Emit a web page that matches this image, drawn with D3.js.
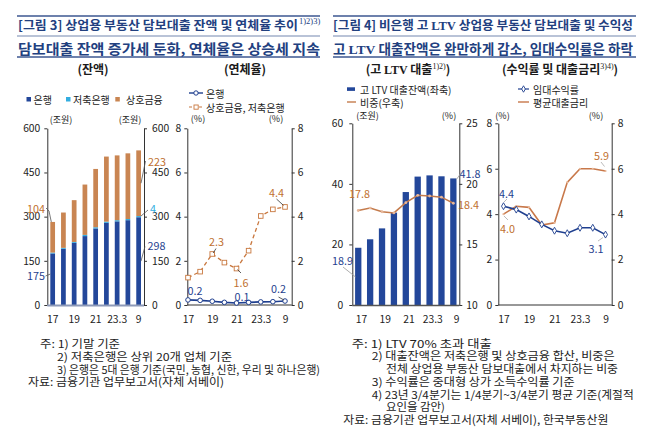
<!DOCTYPE html>
<html><head><meta charset="utf-8">
<script src="https://cdn.jsdelivr.net/npm/d3@7"></script>
<style>
body{margin:0;background:#fff;}
svg{display:block;}
text{font-family:"Noto Sans CJK KR","Noto Sans",sans-serif;}
</style></head><body>
<svg id="c" width="658" height="436"></svg>
<script>
// ---------- data ----------
const categories = ["17","18","19","20","21","22","23.3","23.6","23.9"];
const shownTicks = ["17","19","21","23.3","23.9"];
const tickText = {"17":"17","19":"19","21":"21","23.3":"23.3","23.9":"9"};

const bankBal    = [175,191,211,234,260,279,284,288,298];
const savingsBal = [3,3,3,4,4,4,4,4,4];
const mutualBal  = [104,120,142,171,198,221,220,223,223];

const bankDelinq   = [0.23,0.21,0.17,0.12,0.09,0.12,0.14,0.15,0.18];
const mutualDelinq = [1.24,1.51,2.31,1.92,1.65,2.46,4.03,4.33,4.44];

const ltvBal   = [18.9,21.7,25.3,30.5,37.3,42.4,42.8,42.5,41.8];
const ltvShare = [17.8,18.0,17.7,17.6,18.45,19.05,19.0,18.9,18.4];

const rentYield = [4.35,4.2,3.9,3.55,3.27,3.16,3.4,3.4,3.1];
const loanRate  = [4.0,4.35,4.3,3.52,3.62,5.4,6.0,6.0,5.9];

const balTicks = [0,150,300,450,600];
const pctTicks = [0,2,4,6,8];
const ltvTicks = [0,20,40,60];
const shareTicks = [10,15,20,25];

// ---------- style ----------
const NAVY = "#22407f";
const BLUE = "#23479a";
const CYAN = "#33ade0";
const ORANGE = "#c98552";
const ORANGE_T = "#c0702f";
const BLUE_T = "#1f3f8f";
const NUMF = '"Liberation Sans", Arial, sans-serif';
const SERIF = '"Liberation Serif", "Noto Sans CJK KR", serif';

const svg = d3.select("#c");
svg.append("rect").attr("width",658).attr("height",436).attr("fill","#fff");

// ---------- headers ----------
function hlines(x1,x2){
  svg.append("line").attr("x1",x1).attr("x2",x2).attr("y1",16).attr("y2",16).attr("stroke","#3d5790").attr("stroke-width",1.6);
  svg.append("line").attr("x1",x1).attr("x2",x2).attr("y1",36).attr("y2",36).attr("stroke","#7487b0").attr("stroke-width",1.1);
  svg.append("line").attr("x1",x1).attr("x2",x2).attr("y1",57).attr("y2",57).attr("stroke","#3d5790").attr("stroke-width",1.6);
}
hlines(17,320);
hlines(333,636);

const t3 = svg.append("text").attr("x",18).attr("y",30).attr("font-size",12.5).attr("font-weight",700).attr("fill",NAVY);
t3.append("tspan").attr("textLength",280).attr("lengthAdjust","spacingAndGlyphs").text("[그림 3] 상업용 부동산 담보대출 잔액 및 연체율 추이");
t3.append("tspan").attr("x",299).attr("dy",-6).attr("font-size",8.5).attr("font-weight",400).attr("font-family",SERIF).text("1)2)3)");
svg.append("text").attr("x",18).attr("y",54).attr("font-size",13.5).attr("font-weight",700).attr("fill",NAVY)
  .attr("textLength",302).attr("lengthAdjust","spacingAndGlyphs")
  .text("담보대출 잔액 증가세 둔화, 연체율은 상승세 지속");

const t4 = svg.append("text").attr("x",333).attr("y",30).attr("font-size",12.5).attr("font-weight",700).attr("fill",NAVY)
  .attr("textLength",300).attr("lengthAdjust","spacingAndGlyphs");
t4.append("tspan").text("[그림 4] 비은행 고 ");
t4.append("tspan").attr("font-family",SERIF).text("LTV");
t4.append("tspan").text(" 상업용 부동산 담보대출 및 수익성");
const s4 = svg.append("text").attr("x",333).attr("y",54).attr("font-size",13.5).attr("font-weight",700).attr("fill",NAVY)
  .attr("textLength",300).attr("lengthAdjust","spacingAndGlyphs");
s4.append("tspan").text("고 ");
s4.append("tspan").attr("font-family",SERIF).text("LTV");
s4.append("tspan").text(" 대출잔액은 완만하게 감소, 임대수익률은 하락");

function subhead(x, parts){
  const t = svg.append("text").attr("x",x).attr("y",74).attr("font-size",12).attr("font-weight",700).attr("fill","#1a1a1a").attr("text-anchor","middle");
  parts.forEach(p=>{
    const ts = t.append("tspan").text(p.t);
    if(p.serif) ts.attr("font-family",SERIF);
    if(p.sup) ts.attr("font-size",8).attr("dy",-5).attr("font-family",SERIF).attr("font-weight",400);
    if(p.down) ts.attr("dy",5);
  });
}
subhead(93,[{t:"(잔액)"}]);
subhead(245,[{t:"(연체율)"}]);
subhead(408,[{t:"(고 "},{t:"LTV",serif:true},{t:" 대출"},{t:"1)2)",sup:true},{t:")",down:true}]);
subhead(560,[{t:"(수익률 및 대출금리"},{t:"3)4)",sup:true},{t:")",down:true}]);

// ---------- helpers ----------
function styleAxis(g){
  g.selectAll("path.domain").attr("stroke","#333").attr("stroke-width",1);
  g.selectAll(".tick line").attr("stroke","#333");
  g.selectAll(".tick text").attr("font-family",NUMF).attr("font-size",10.3).attr("fill","#222");
}
function unit(x,y,t){
  svg.append("text").attr("x",x).attr("y",y).attr("text-anchor","middle").attr("dominant-baseline","central")
    .attr("font-size",9).attr("fill","#222").text(t);
}
function label(x,y,t,color,anchor){
  svg.append("text").attr("x",x).attr("y",y).attr("text-anchor",anchor||"middle").attr("dominant-baseline","central")
    .attr("font-family",NUMF).attr("font-size",10.8).attr("fill",color).text(t);
}
function leader(pts,color){
  svg.append("path").attr("d",d3.line()(pts)).attr("fill","none").attr("stroke",color||"#555").attr("stroke-width",0.8);
}
function xLabels(scale, offset){
  const g = svg.append("g").attr("transform",`translate(${offset||0},305)`)
    .call(d3.axisBottom(scale).tickValues(shownTicks).tickFormat(d=>tickText[d]).tickSize(0).tickPadding(10.5));
  g.select("path.domain").remove();
  styleAxis(g);
}
function legendText(x,y,t){
  svg.append("text").attr("x",x).attr("y",y).attr("dominant-baseline","central").attr("font-size",10).attr("fill","#222").text(t);
}

// ---------- chart 1: balances (stacked bars) ----------
const x1 = d3.scaleBand().domain(categories).range([47.3,144]).paddingInner(0.56).paddingOuter(0.28);
const y1 = d3.scaleLinear().domain([0,600]).range([305,128.3]);
const rows1 = categories.map((c,i)=>({cat:c, bank:bankBal[i], savings:savingsBal[i], mutual:mutualBal[i]}));
const stack1 = d3.stack().keys(["bank","savings","mutual"])(rows1);
const col1 = {bank:BLUE, savings:CYAN, mutual:ORANGE};
svg.append("g").selectAll("g").data(stack1).join("g").attr("fill",d=>col1[d.key])
  .selectAll("rect").data(d=>d).join("rect")
  .attr("x",d=>x1(d.data.cat)).attr("width",x1.bandwidth())
  .attr("y",d=>y1(d[1])).attr("height",d=>y1(d[0])-y1(d[1]));
{
  const gl = svg.append("g").attr("transform","translate(47.3,0)").call(d3.axisLeft(y1).tickValues(balTicks).tickSize(3).tickSizeOuter(0).tickPadding(4));
  styleAxis(gl);
  const gr = svg.append("g").attr("transform","translate(144,0)").call(d3.axisRight(y1).tickValues(balTicks).tickSize(3).tickSizeOuter(0).tickPadding(5));
  styleAxis(gr);
  svg.append("line").attr("x1",47.3).attr("x2",144).attr("y1",305.5).attr("y2",305.5).attr("stroke","#8e9ab8").attr("stroke-width",1.8);
  xLabels(x1);
}
unit(61,119,"(조원)"); unit(130,119,"(조원)");
// legend 1
[[26.5,"은행",BLUE,33.5],[66,"저축은행",CYAN,73],[115.3,"상호금융",ORANGE,126]].forEach(([x,t,c,tx])=>{
  svg.append("rect").attr("x",x).attr("y",97).attr("width",4.5).attr("height",4.5).attr("fill",c);
  legendText(tx,99.5,t);
});
// annotations 1
{
  const c0 = x1(categories[0]), c8 = x1(categories[8]);
  const tot0 = bankBal[0]+savingsBal[0]+mutualBal[0];
  label(45,207.5,String(mutualBal[0]),ORANGE_T,"end");
  leader([[46,208],[49,211],[c0+1,y1(tot0)]]);
  label(45,275,String(bankBal[0]),BLUE_T,"end");
  leader([[45.5,276],[c0,y1(bankBal[0]*0.6)]]);
  label(148,161,String(mutualBal[8]),ORANGE_T,"start");
  leader([[145.5,161],[c8+x1.bandwidth(),y1(bankBal[8]+savingsBal[8]+mutualBal[8]/2)]]);
  label(150,207.5,String(savingsBal[8]),CYAN,"start");
  leader([[148,210],[c8+x1.bandwidth(),y1(bankBal[8]+savingsBal[8])]]);
  label(147.5,245,String(bankBal[8]),BLUE_T,"start");
  leader([[145,246.5],[c8+x1.bandwidth(),y1(bankBal[8]/2)]]);
}

// ---------- chart 2: delinquency ----------
const x2 = d3.scalePoint().domain(categories).range([188,285]);
const y2 = d3.scaleLinear().domain([0,8]).range([305,128.3]);
{
  const gl = svg.append("g").attr("transform","translate(187.3,0)").call(d3.axisLeft(y2).tickValues(pctTicks).tickSize(3).tickSizeOuter(0).tickPadding(3));
  styleAxis(gl);
  const gr = svg.append("g").attr("transform","translate(291.7,0)").call(d3.axisRight(y2).tickValues(pctTicks).tickSize(3).tickSizeOuter(0).tickPadding(3));
  styleAxis(gr);
  svg.append("line").attr("x1",187.3).attr("x2",291.7).attr("y1",305).attr("y2",305).attr("stroke","#333").attr("stroke-width",1.2);
  xLabels(x2);
}
const line2 = d3.line().x((d,i)=>x2(categories[i])).y(d=>y2(d));
svg.append("path").attr("d",line2(mutualDelinq)).attr("fill","none").attr("stroke","#c8773e").attr("stroke-width",1.3).attr("stroke-dasharray","4,3");
svg.append("g").selectAll("rect").data(mutualDelinq).join("rect")
  .attr("x",(d,i)=>x2(categories[i])-2.3).attr("y",d=>y2(d)-2.3).attr("width",4.6).attr("height",4.6)
  .attr("fill","#fff").attr("stroke","#c8773e").attr("stroke-width",0.9);
svg.append("path").attr("d",line2(bankDelinq)).attr("fill","none").attr("stroke",BLUE_T).attr("stroke-width",1.6);
svg.append("g").selectAll("circle").data(bankDelinq).join("circle")
  .attr("cx",(d,i)=>x2(categories[i])).attr("cy",d=>y2(d)).attr("r",2.3)
  .attr("fill","#fff").attr("stroke",BLUE_T).attr("stroke-width",1);
unit(198,118.5,"(%)"); unit(276,118.5,"(%)");
// legend 2
svg.append("line").attr("x1",189).attr("x2",203).attr("y1",93).attr("y2",93).attr("stroke",BLUE_T).attr("stroke-width",1.4);
svg.append("circle").attr("cx",196).attr("cy",93).attr("r",2.2).attr("fill","#fff").attr("stroke",BLUE_T);
legendText(206,93,"은행");
svg.append("line").attr("x1",189).attr("x2",203).attr("y1",107).attr("y2",107).attr("stroke","#c8773e").attr("stroke-width",1.2).attr("stroke-dasharray","3,2");
svg.append("rect").attr("x",194).attr("y",105).attr("width",4.2).attr("height",4.2).attr("fill","#fff").attr("stroke","#c8773e").attr("stroke-width",0.9);
legendText(206,107,"상호금융, 저축은행");
// annotations 2
{
  label(195,290,"0.2",BLUE_T);
  label(242,296,"0.1",BLUE_T);
  label(278.5,288,"0.2",BLUE_T);
  leader([[278.5,297],[x2(categories[8])-1,y2(bankDelinq[8])-1]],"#333");
  label(216.5,241,"2.3",ORANGE_T);
  leader([[216,248.5],[x2(categories[2])+1,y2(mutualDelinq[2])-1]],"#333");
  label(241,282,"1.6",ORANGE_T);
  leader([[x2(categories[4])+1,y2(mutualDelinq[4])+1],[241,273]],"#333");
  label(276.5,192,"4.4",ORANGE_T);
  leader([[276.5,199],[x2(categories[8])-1.5,y2(mutualDelinq[8])-1.5]],"#333");
}

// ---------- chart 3: high LTV ----------
const x3 = d3.scaleBand().domain(categories).range([352.3,459.3]).paddingInner(0.47).paddingOuter(0.235);
const y3 = d3.scaleLinear().domain([0,60]).range([305,123.3]);
const y3r = d3.scaleLinear().domain([10,25]).range([305,123.3]);
svg.append("g").selectAll("rect").data(ltvBal).join("rect")
  .attr("x",(d,i)=>x3(categories[i])).attr("width",x3.bandwidth())
  .attr("y",d=>y3(d)).attr("height",d=>y3(0)-y3(d)).attr("fill",BLUE);
{
  const gl = svg.append("g").attr("transform","translate(352.3,0)").call(d3.axisLeft(y3).tickValues(ltvTicks).tickSize(3).tickSizeOuter(0).tickPadding(6));
  styleAxis(gl);
  const gr = svg.append("g").attr("transform","translate(459.3,0)").call(d3.axisRight(y3r).tickValues(shareTicks).tickSize(3).tickSizeOuter(0).tickPadding(4));
  styleAxis(gr);
  svg.append("line").attr("x1",352.3).attr("x2",459.3).attr("y1",305.5).attr("y2",305.5).attr("stroke","#555").attr("stroke-width",1.5);
  xLabels(x3, x3.bandwidth()/2);
}
const line3 = d3.line().x((d,i)=>x3(categories[i])+x3.bandwidth()/2).y(d=>y3r(d));
svg.append("path").attr("d",line3(ltvShare)).attr("fill","none").attr("stroke","#c47b4c").attr("stroke-width",1.5);
svg.append("g").selectAll("circle").data(ltvShare).join("circle")
  .attr("cx",(d,i)=>x3(categories[i])+x3.bandwidth()/2).attr("cy",d=>y3r(d)).attr("r",1.4).attr("fill","#e7b79a");
unit(367.5,115,"(조원)"); unit(449,115,"(%)");
// legend 3
svg.append("rect").attr("x",347).attr("y",87.3).attr("width",8).attr("height",3.6).attr("fill",BLUE);
legendText(360,89,"고 LTV 대출잔액(좌축)");
svg.append("line").attr("x1",347).attr("x2",356).attr("y1",102).attr("y2",102).attr("stroke","#c47b4c").attr("stroke-width",1.4);
legendText(360,102,"비중(우축)");
// annotations 3
{
  label(359.5,193,"17.8",ORANGE_T);
  label(342.5,260,"18.9",BLUE_T);
  leader([[343,267],[x3(categories[0])+0.5,277]],"#999");
  label(470,172.5,"41.8",BLUE_T);
  leader([[x3(categories[8])+x3.bandwidth(),y3(ltvBal[8])+1],[461,173]],"#999");
  label(468.5,204,"18.4",ORANGE_T);
}

// ---------- chart 4: yield & rate ----------
const x4 = d3.scalePoint().domain(categories).range([503.5,605.5]);
const y4 = d3.scaleLinear().domain([0,8]).range([305,123.3]);
{
  const gl = svg.append("g").attr("transform","translate(498.3,0)").call(d3.axisLeft(y4).tickValues(pctTicks).tickSize(3).tickSizeOuter(0).tickPadding(3));
  styleAxis(gl);
  const gr = svg.append("g").attr("transform","translate(611.7,0)").call(d3.axisRight(y4).tickValues(pctTicks).tickSize(3).tickSizeOuter(0).tickPadding(3));
  styleAxis(gr);
  svg.append("line").attr("x1",498.3).attr("x2",611.7).attr("y1",305).attr("y2",305).attr("stroke","#333").attr("stroke-width",1.2);
  xLabels(x4);
}
const line4 = d3.line().x((d,i)=>x4(categories[i])).y(d=>y4(d));
svg.append("path").attr("d",line4(loanRate)).attr("fill","none").attr("stroke","#c8784a").attr("stroke-width",1.6);
svg.append("g").selectAll("circle").data(loanRate).join("circle")
  .attr("cx",(d,i)=>x4(categories[i])).attr("cy",d=>y4(d)).attr("r",1.1).attr("fill","#e8b899");
svg.append("path").attr("d",line4(rentYield)).attr("fill","none").attr("stroke",BLUE_T).attr("stroke-width",1.6);
svg.append("g").selectAll("path.dm").data(rentYield).join("path").attr("class","dm")
  .attr("d",d3.symbol(d3.symbolDiamond,14)())
  .attr("transform",(d,i)=>`translate(${x4(categories[i])},${y4(d)})`)
  .attr("fill","#fff").attr("stroke",BLUE_T).attr("stroke-width",0.9);
unit(502.5,115,"(%)"); unit(596,115,"(%)");
// legend 4
svg.append("line").attr("x1",518).attr("x2",529).attr("y1",89).attr("y2",89).attr("stroke",BLUE_T).attr("stroke-width",1.2);
svg.append("path").attr("d",d3.symbol(d3.symbolDiamond,12)()).attr("transform","translate(523.5,89)").attr("fill","#fff").attr("stroke",BLUE_T).attr("stroke-width",0.9);
legendText(533,89,"임대수익률");
svg.append("line").attr("x1",518).attr("x2",529).attr("y1",102).attr("y2",102).attr("stroke","#c8784a").attr("stroke-width",1.4);
legendText(533,102,"평균대출금리");
// annotations 4
{
  label(506.5,193,"4.4",BLUE_T);
  leader([[504,202],[507,199]],"#aaa");
  label(507.5,228,"4.0",ORANGE_T);
  leader([[504,216],[508,220]],"#aaa");
  label(601.5,155,"5.9",ORANGE_T);
  leader([[601,162],[604.5,166.5]],"#aaa");
  label(596,248,"3.1",BLUE_T);
  leader([[598,241],[603,237.5]],"#aaa");
}

// ---------- notes ----------
function note(x,y,t,w){
  const el = svg.append("text").attr("x",x).attr("y",y).attr("dominant-baseline","central")
    .attr("font-family",SERIF).attr("font-size",11).attr("fill","#222").text(t);
  if(w) el.attr("textLength",w).attr("lengthAdjust","spacingAndGlyphs");
}
note(40,343,"주: 1) 기말 기준",80);
note(57,355.8,"2) 저축은행은 상위 20개 업체 기준",175);
note(57,368.6,"3) 은행은 5대 은행 기준(국민, 농협, 신한, 우리 및 하나은행)",263);
note(28,381.4,"자료: 금융기관 업무보고서(자체 서베이)",196);

note(351.7,342.7,"주: 1) LTV 70% 초과 대출",140);
note(371.7,355.4,"2) 대출잔액은 저축은행 및 상호금융 합산, 비중은",243);
note(386,368.1,"전체 상업용 부동산 담보대출에서 차지하는 비중",232);
note(371.7,380.8,"3) 수익률은 중대형 상가 소득수익률 기준",203);
note(371.7,393.5,"4) 23년 3/4분기는 1/4분기~3/4분기 평균 기준(계절적",262);
note(386,406.2,"요인을 감안)",59);
note(343.3,418.9,"자료: 금융기관 업무보고서(자체 서베이), 한국부동산원",265);
</script>
</body></html>
